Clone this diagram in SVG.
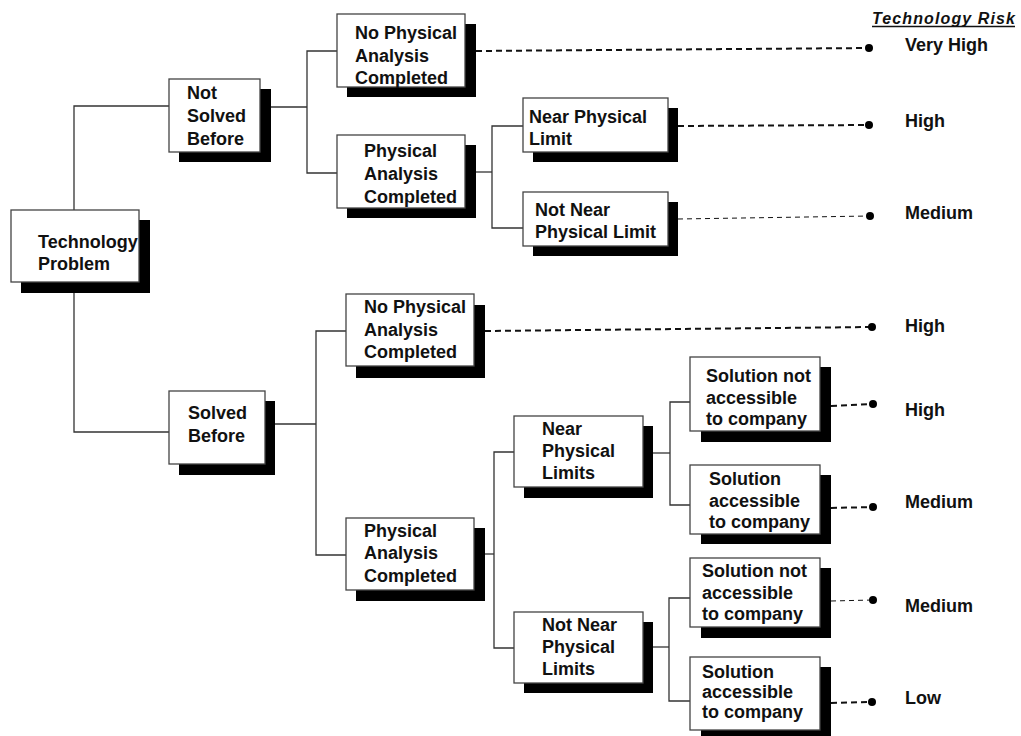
<svg xmlns="http://www.w3.org/2000/svg" width="1021" height="736" viewBox="0 0 1021 736">
  <style>
    .shadow { fill: #000; }
    .box { fill: #fff; stroke: #444; stroke-width: 1.3; }
    .lbl { font-family: "Liberation Sans", Arial, sans-serif; font-weight: bold; font-size: 18px; fill: #111; }
    .risk { font-family: "Liberation Sans", Arial, sans-serif; font-weight: bold; font-size: 18px; fill: #111; }
    .head { font-family: "Liberation Sans", Arial, sans-serif; font-weight: bold; font-style: italic; font-size: 16px; fill: #111; }
    .tree { fill: none; stroke: #333; stroke-width: 1.3; }
    .dash { fill: none; stroke: #111; stroke-width: 2; stroke-dasharray: 6 4; }
    .dash-thin { fill: none; stroke: #111; stroke-width: 1; stroke-dasharray: 5 4; }
    .dot { fill: #000; }
  </style>
  <defs>
    <clipPath id="root-clip">
      <rect x="11" y="210" width="128" height="72"/>
    </clipPath>
  </defs>

  <!-- tree connectors and risk leaders -->
  <g id="connectors">
    <path class="tree" d="M74,210 V106 H169"/>
    <path class="tree" d="M74,293 V432 H169"/>
    <path class="tree" d="M271,107 H307"/>
    <path class="tree" d="M337,51 H307 V173 H337"/>
    <path class="tree" d="M476,172 H492"/>
    <path class="tree" d="M523,126 H492 V228 H523"/>
    <path class="tree" d="M275,424 H316"/>
    <path class="tree" d="M346,331 H316 V555 H346"/>
    <path class="tree" d="M485,554 H494"/>
    <path class="tree" d="M514,452 H494 V648 H514"/>
    <path class="tree" d="M641,453 H670"/>
    <path class="tree" d="M690,402 H670 V505 H690"/>
    <path class="tree" d="M653,647 H669"/>
    <path class="tree" d="M690,598 H669 V701 H690"/>

    <path class="dash" d="M476,51 L869,48"/>
    <path class="dash" d="M678,126 L869,125"/>
    <path class="dash-thin" d="M678,219 L870,216"/>
    <path class="dash" d="M485,331 L872,327"/>
    <path class="dash" d="M831,406 L873,404"/>
    <path class="dash" d="M831,508 L873,507"/>
    <path class="dash-thin" d="M831,601 L873,600"/>
    <path class="dash" d="M831,703 L872,702"/>

    <circle class="dot" cx="869" cy="48" r="4"/>
    <circle class="dot" cx="869" cy="125" r="4"/>
    <circle class="dot" cx="870" cy="216" r="4"/>
    <circle class="dot" cx="872" cy="327" r="4"/>
    <circle class="dot" cx="873" cy="404" r="4"/>
    <circle class="dot" cx="873" cy="507" r="4"/>
    <circle class="dot" cx="873" cy="600" r="4"/>
    <circle class="dot" cx="872" cy="702" r="4"/>
  </g>

  <!-- column heading -->
  <g id="heading">
    <text class="head" x="872" y="24" textLength="143" lengthAdjust="spacing">Technology Risk</text>
    <line x1="872" y1="26.5" x2="1015" y2="26.5" stroke="#111" stroke-width="1.3"/>
  </g>

  <!-- risk ratings -->
  <g id="risk-labels">
    <text class="risk" x="905" y="51">Very High</text>
    <text class="risk" x="905" y="127">High</text>
    <text class="risk" x="905" y="219">Medium</text>
    <text class="risk" x="905" y="332">High</text>
    <text class="risk" x="905" y="416">High</text>
    <text class="risk" x="905" y="508">Medium</text>
    <text class="risk" x="905" y="612">Medium</text>
    <text class="risk" x="905" y="704">Low</text>
  </g>

  <g id="technology-problem">
    <rect class="shadow" x="21" y="220" width="129" height="73"/>
    <rect class="box" x="11" y="210" width="128" height="72"/>
    <g clip-path="url(#root-clip)">
      <text class="lbl" x="38" y="248">Technology</text>
      <text class="lbl" x="38" y="270">Problem</text>
    </g>
  </g>

  <g id="not-solved-before">
    <rect class="shadow" x="179" y="89" width="92" height="73"/>
    <rect class="box" x="169" y="79" width="91" height="73"/>
    <text class="lbl" x="187" y="99">Not</text>
    <text class="lbl" x="187" y="122">Solved</text>
    <text class="lbl" x="187" y="145">Before</text>
  </g>

  <g id="solved-before">
    <rect class="shadow" x="179" y="401" width="96" height="74"/>
    <rect class="box" x="169" y="391" width="96" height="73"/>
    <text class="lbl" x="188" y="419">Solved</text>
    <text class="lbl" x="188" y="442">Before</text>
  </g>

  <g id="no-analysis-1">
    <rect class="shadow" x="347" y="24" width="129" height="73"/>
    <rect class="box" x="337" y="14" width="128" height="73"/>
    <text class="lbl" x="355" y="39">No Physical</text>
    <text class="lbl" x="355" y="62">Analysis</text>
    <text class="lbl" x="355" y="84">Completed</text>
  </g>

  <g id="analysis-1">
    <rect class="shadow" x="347" y="145" width="129" height="73"/>
    <rect class="box" x="337" y="135" width="128" height="73"/>
    <text class="lbl" x="364" y="157">Physical</text>
    <text class="lbl" x="364" y="180">Analysis</text>
    <text class="lbl" x="364" y="203">Completed</text>
  </g>

  <g id="near-limit">
    <rect class="shadow" x="533" y="108" width="145" height="54"/>
    <rect class="box" x="523" y="98" width="145" height="54"/>
    <text class="lbl" x="529" y="123">Near Physical</text>
    <text class="lbl" x="529" y="145">Limit</text>
  </g>

  <g id="not-near-limit">
    <rect class="shadow" x="533" y="202" width="145" height="54"/>
    <rect class="box" x="523" y="192" width="145" height="54"/>
    <text class="lbl" x="535" y="216">Not Near</text>
    <text class="lbl" x="535" y="238">Physical Limit</text>
  </g>

  <g id="no-analysis-2">
    <rect class="shadow" x="356" y="305" width="129" height="73"/>
    <rect class="box" x="346" y="294" width="128" height="72"/>
    <text class="lbl" x="364" y="313">No Physical</text>
    <text class="lbl" x="364" y="336">Analysis</text>
    <text class="lbl" x="364" y="358">Completed</text>
  </g>

  <g id="analysis-2">
    <rect class="shadow" x="356" y="528" width="129" height="73"/>
    <rect class="box" x="346" y="518" width="128" height="72"/>
    <text class="lbl" x="364" y="537">Physical</text>
    <text class="lbl" x="364" y="559">Analysis</text>
    <text class="lbl" x="364" y="582">Completed</text>
  </g>

  <g id="near-limits">
    <rect class="shadow" x="524" y="426" width="129" height="72"/>
    <rect class="box" x="514" y="416" width="129" height="71"/>
    <text class="lbl" x="542" y="435">Near</text>
    <text class="lbl" x="542" y="457">Physical</text>
    <text class="lbl" x="542" y="479">Limits</text>
  </g>

  <g id="not-near-limits">
    <rect class="shadow" x="524" y="622" width="129" height="71"/>
    <rect class="box" x="514" y="612" width="129" height="71"/>
    <text class="lbl" x="542" y="631">Not Near</text>
    <text class="lbl" x="542" y="653">Physical</text>
    <text class="lbl" x="542" y="675">Limits</text>
  </g>

  <g id="near-not-accessible">
    <rect class="shadow" x="701" y="367" width="130" height="75"/>
    <rect class="box" x="690" y="357" width="130" height="74"/>
    <text class="lbl" x="706" y="382">Solution not</text>
    <text class="lbl" x="706" y="404">accessible</text>
    <text class="lbl" x="706" y="425">to company</text>
  </g>

  <g id="near-accessible">
    <rect class="shadow" x="701" y="475" width="130" height="69"/>
    <rect class="box" x="690" y="465" width="130" height="69"/>
    <text class="lbl" x="709" y="485">Solution</text>
    <text class="lbl" x="709" y="507">accessible</text>
    <text class="lbl" x="709" y="528">to company</text>
  </g>

  <g id="far-not-accessible">
    <rect class="shadow" x="701" y="568" width="130" height="70"/>
    <rect class="box" x="690" y="558" width="130" height="69"/>
    <text class="lbl" x="702" y="577">Solution not</text>
    <text class="lbl" x="702" y="599">accessible</text>
    <text class="lbl" x="702" y="620">to company</text>
  </g>

  <g id="far-accessible">
    <rect class="shadow" x="701" y="667" width="130" height="70"/>
    <rect class="box" x="690" y="657" width="130" height="73"/>
    <text class="lbl" x="702" y="678">Solution</text>
    <text class="lbl" x="702" y="698">accessible</text>
    <text class="lbl" x="702" y="718">to company</text>
  </g>
</svg>
